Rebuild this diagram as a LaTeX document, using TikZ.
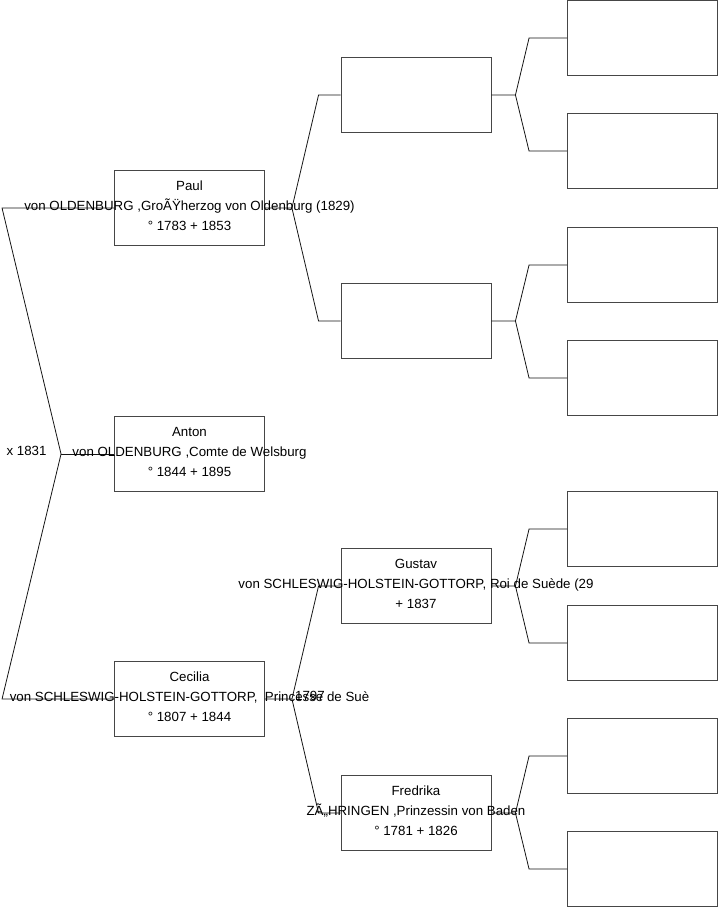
\documentclass[tikz,border=0pt]{standalone}
\usepackage{fontspec}
\setmainfont{Liberation Sans}
\usepackage{tikz}
\usetikzlibrary{positioning,calc}
\definecolor{boxgray}{RGB}{70,70,70}
\definecolor{linkblack}{RGB}{20,20,20}
\tikzset{
  pbox/.style ={rectangle, draw=boxgray, line width=0.9pt, fill=none,
                minimum width=150pt, minimum height=75pt, inner sep=0pt},
  ptxt/.style ={align=center, inner sep=0pt, text=black,
                font=\fontsize{13.3}{20}\selectfont},
  lbl/.style  ={inner sep=0pt, font=\fontsize{13.3}{15}\selectfont},
  link/.style ={draw=linkblack, line width=0.8pt}
}
\begin{document}
\begin{tikzpicture}[x=1pt, y=-1pt]
\useasboundingbox (0,0) rectangle (719,908);
% generation 1
\node[pbox] (paul) at (189.5,208) {};
\node[pbox] (anton) at (189.5,454) {};
\node[pbox] (cecilia) at (189.5,699) {};
% generation 2
\node[pbox] (p1) at (416,95) {};
\node[pbox] (p2) at (416,321) {};
\node[pbox] (gustav) at (416,586) {};
\node[pbox] (fredrika) at (416,813) {};
% generation 3
\node[pbox] (g1) at (642.5,38) {};
\node[pbox] (g2) at (642.5,151) {};
\node[pbox] (g3) at (642.5,265) {};
\node[pbox] (g4) at (642.5,378) {};
\node[pbox] (g5) at (642.5,529) {};
\node[pbox] (g6) at (642.5,643) {};
\node[pbox] (g7) at (642.5,756) {};
\node[pbox] (g8) at (642.5,869) {};

% forks
\coordinate (froot) at ($(anton.west)+(-53,0)$);
\coordinate (fpaul) at ($(paul.east)+(27,0)$);
\coordinate (fcecilia) at ($(cecilia.east)+(27,0)$);
\coordinate (fp1) at ($(p1.east)+(24,0)$);
\coordinate (fp2) at ($(p2.east)+(24,0)$);
\coordinate (fgustav) at ($(gustav.east)+(24,0)$);
\coordinate (ffredrika) at ($(fredrika.east)+(24,0)$);

\draw[link] (anton.west) -- (froot);
\draw[link] (paul.west) -- ([xshift=-112]paul.west) -- (froot);
\draw[link] (cecilia.west) -- ([xshift=-112]cecilia.west) -- (froot);

\draw[link] (paul.east) -- (fpaul) -- ([xshift=-22]p1.west) -- (p1.west);
\draw[link] (fpaul) -- ([xshift=-22]p2.west) -- (p2.west);
\draw[link] (cecilia.east) -- (fcecilia) -- ([xshift=-22]gustav.west) -- (gustav.west);
\draw[link] (fcecilia) -- ([xshift=-22]fredrika.west) -- (fredrika.west);

\draw[link] (p1.east) -- (fp1) -- ([xshift=-38]g1.west) -- (g1.west);
\draw[link] (fp1) -- ([xshift=-38]g2.west) -- (g2.west);
\draw[link] (p2.east) -- (fp2) -- ([xshift=-38]g3.west) -- (g3.west);
\draw[link] (fp2) -- ([xshift=-38]g4.west) -- (g4.west);
\draw[link] (gustav.east) -- (fgustav) -- ([xshift=-38]g5.west) -- (g5.west);
\draw[link] (fgustav) -- ([xshift=-38]g6.west) -- (g6.west);
\draw[link] (fredrika.east) -- (ffredrika) -- ([xshift=-38]g7.west) -- (g7.west);
\draw[link] (ffredrika) -- ([xshift=-38]g8.west) -- (g8.west);

% texts
\node[lbl] (marr) at (26.5,451) {x 1831};
\node[ptxt] (tpaul) at ([yshift=2]paul.center) {Paul\\von OLDENBURG ,GroÃŸherzog von Oldenburg (1829)\\° 1783 + 1853};
\node[ptxt] (tanton) at ([yshift=2]anton.center) {Anton\\von OLDENBURG ,Comte de Welsburg\\° 1844 + 1895};
\node[ptxt] (tcecilia) at ([yshift=2]cecilia.center) {Cecilia\\von SCHLESWIG-HOLSTEIN-GOTTORP,\ \ Princesse de Suè\\° 1807 + 1844};
\node[lbl] (tcyear) at (310,696) {1797};
\node[ptxt] (tgustav) at ([yshift=2]gustav.center) {Gustav\\von SCHLESWIG-HOLSTEIN-GOTTORP, Roi de Suède (29\\+ 1837};
\node[ptxt] (tfredrika) at ([yshift=2]fredrika.center) {Fredrika\\ZÃ„HRINGEN ,Prinzessin von Baden\\° 1781 + 1826};
\end{tikzpicture}
\end{document}
